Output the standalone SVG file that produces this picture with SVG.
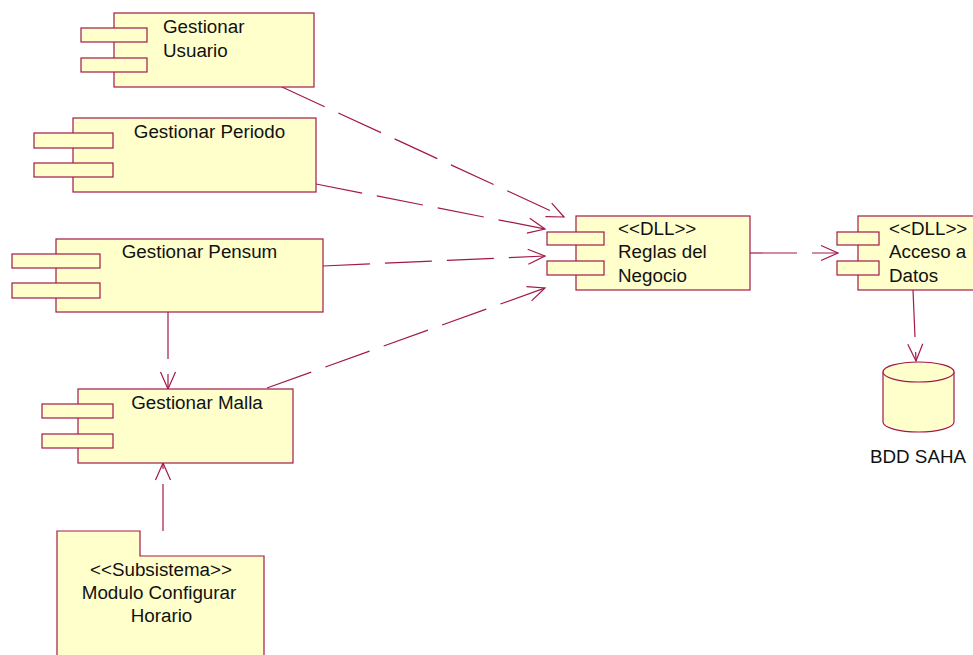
<svg xmlns="http://www.w3.org/2000/svg" width="973" height="655" viewBox="0 0 973 655">
<style>
.box{fill:#FFFFCC;stroke:#A3184B;stroke-width:1.2}
.t{font-family:"Liberation Sans",Arial,sans-serif;font-size:18.8px;fill:#111}
.c{text-anchor:middle}
.dep{fill:none;stroke:#A3184B;stroke-width:1.2;stroke-dasharray:47 15}
</style>
<defs>
<marker id="arr" markerUnits="userSpaceOnUse" markerWidth="20" markerHeight="18" refX="17" refY="7.5" orient="auto" overflow="visible">
<path d="M0,0 L17,7.5 L0,15" fill="none" stroke="#A3184B" stroke-width="1.2" stroke-dasharray="none"/>
</marker>
</defs>
<rect width="973" height="655" fill="#fff"/>
<g id="connectors">
<line class="dep" x1="282" y1="87" x2="564" y2="217" marker-end="url(#arr)"/>
<line class="dep" x1="316" y1="184" x2="545" y2="229" marker-end="url(#arr)"/>
<line class="dep" x1="323" y1="266" x2="545" y2="256" marker-end="url(#arr)"/>
<line class="dep" x1="267" y1="388" x2="545" y2="288" marker-end="url(#arr)"/>
<line class="dep" x1="168" y1="312" x2="168" y2="389" marker-end="url(#arr)"/>
<line class="dep" x1="163" y1="531" x2="163" y2="463" marker-end="url(#arr)"/>
<line class="dep" x1="750" y1="253" x2="838" y2="253" marker-end="url(#arr)"/>
<line class="dep" x1="913" y1="290" x2="916" y2="361" marker-end="url(#arr)"/>
</g>
<g id="gestionar-usuario">
<rect class="box" x="114" y="13" width="200" height="74"/>
<rect class="box" x="81" y="28" width="66" height="14"/>
<rect class="box" x="81" y="58" width="66" height="14"/>
<text class="t" x="163" y="33">Gestionar</text>
<text class="t" x="163" y="57">Usuario</text>
</g>
<g id="gestionar-periodo">
<rect class="box" x="73" y="118" width="243" height="74"/>
<rect class="box" x="34" y="133" width="79" height="15"/>
<rect class="box" x="34" y="163" width="79" height="14"/>
<text class="t c" x="209.5" y="138">Gestionar Periodo</text>
</g>
<g id="gestionar-pensum">
<rect class="box" x="56" y="239" width="267" height="73"/>
<rect class="box" x="12" y="254" width="88" height="14"/>
<rect class="box" x="12" y="283" width="88" height="15"/>
<text class="t c" x="199.5" y="258">Gestionar Pensum</text>
</g>
<g id="gestionar-malla">
<rect class="box" x="78" y="389" width="215" height="74"/>
<rect class="box" x="42" y="404" width="71" height="14"/>
<rect class="box" x="42" y="434" width="71" height="14"/>
<text class="t c" x="197" y="409">Gestionar Malla</text>
</g>
<g id="modulo-configurar-horario">
<path class="box" d="M57,660 L57,531 L140,531 L140,556 L264,556 L264,660"/>
<text class="t c" x="161" y="576">&lt;&lt;Subsistema&gt;&gt;</text>
<text class="t c" x="159" y="599">Modulo Configurar</text>
<text class="t c" x="161.5" y="622">Horario</text>
</g>
<g id="reglas-del-negocio">
<rect class="box" x="576" y="216" width="174" height="74"/>
<rect class="box" x="547" y="232" width="57" height="13"/>
<rect class="box" x="547" y="261" width="57" height="14"/>
<text class="t" x="618" y="235">&lt;&lt;DLL&gt;&gt;</text>
<text class="t" x="618" y="258">Reglas del</text>
<text class="t" x="618" y="282">Negocio</text>
</g>
<g id="acceso-a-datos">
<rect class="box" x="858" y="216" width="120" height="74"/>
<rect class="box" x="837" y="232" width="42" height="13"/>
<rect class="box" x="837" y="261" width="42" height="14"/>
<text class="t" x="889" y="235">&lt;&lt;DLL&gt;&gt;</text>
<text class="t" x="889" y="258">Acceso a</text>
<text class="t" x="889" y="282">Datos</text>
</g>
<g id="bdd-saha">
<path class="box" d="M883,372 L883,422 A35.5,10 0 0 0 954,422 L954,372"/>
<ellipse class="box" cx="918.5" cy="372" rx="35.5" ry="10"/>
<text class="t c" x="918" y="463">BDD SAHA</text>
</g>
</svg>
